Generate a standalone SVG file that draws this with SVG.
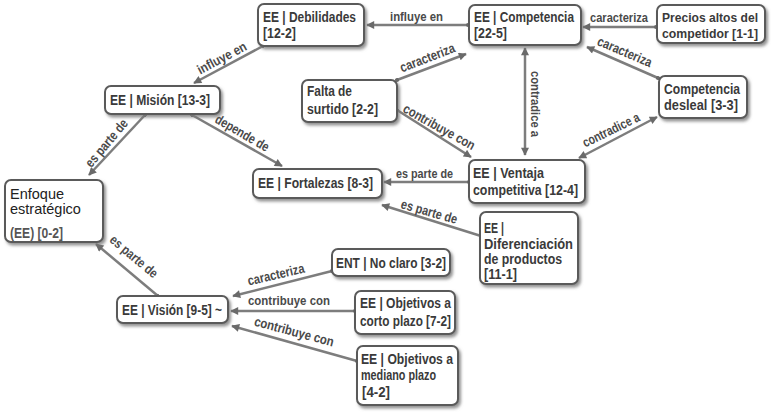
<svg xmlns="http://www.w3.org/2000/svg" width="771" height="415" viewBox="0 0 771 415">
<style>
.box{fill:#fff;stroke:#5a5a5a;stroke-width:2;filter:url(#sh)}
.t{font-family:"Liberation Sans Narrow","Liberation Sans",Arial,sans-serif;font-weight:bold;font-size:14px;fill:#3a3a3a}
.r{font-family:"Liberation Sans",Arial,sans-serif;font-size:14.5px;fill:#222}
.lb{font-family:"Liberation Sans Narrow","Liberation Sans",Arial,sans-serif;font-weight:bold;font-size:13.5px;fill:#4a4a4a}
.e{fill:none;stroke:#7d7d7d;stroke-width:2.5;marker-end:url(#ah);marker-start:url(#dot)}
.b{fill:none;stroke:#7d7d7d;stroke-width:2.5;marker-end:url(#ah);marker-start:url(#ahs)}
</style>
<defs>
<filter id="sh" x="-10%" y="-10%" width="130%" height="140%">
<feDropShadow dx="2" dy="2.5" stdDeviation="1.5" flood-color="#777" flood-opacity="0.8"/>
</filter>
<marker id="ah" viewBox="0 0 10 10" refX="9" refY="5" markerWidth="3.8" markerHeight="3.2" orient="auto" markerUnits="strokeWidth">
<path d="M0,0 L10,5 L0,10 Z" fill="#6a6a6a"/>
</marker>
<marker id="ahs" viewBox="0 0 10 10" refX="9" refY="5" markerWidth="3.8" markerHeight="3.2" orient="auto-start-reverse" markerUnits="strokeWidth">
<path d="M0,0 L10,5 L0,10 Z" fill="#6a6a6a"/>
</marker>
<marker id="dot" viewBox="0 0 10 10" refX="5" refY="5" markerWidth="1.6" markerHeight="1.6" orient="auto" markerUnits="strokeWidth">
<circle cx="5" cy="5" r="5" fill="#6a6a6a"/>
</marker>
</defs>
<rect width="771" height="415" fill="#fff"/>

<g id="connectors">
<path class="e" d="M468,25 L367,25"/>
<path class="e" d="M656,27 L583,27"/>
<path class="e" d="M658,78 L587,47"/>
<path class="e" d="M397,80 L466,54"/>
<path class="e" d="M263,46 L194,83"/>
<path class="b" d="M525,155 L525,48"/>
<path class="e" d="M397,110 L471,157"/>
<path class="b" d="M579,158 L657,117"/>
<path class="e" d="M469,182 L384,182"/>
<path class="e" d="M481,236 L382,205"/>
<path class="e" d="M192,115 L282,166"/>
<path class="e" d="M145,115 L89,175"/>
<path class="e" d="M158,296 L96,244"/>
<path class="e" d="M332,271 L233,296"/>
<path class="e" d="M355,311 L231,311"/>
<path class="e" d="M357,361 L232,326"/>
</g>

<g id="labels">
<text class="lb" x="390" y="21" textLength="53" lengthAdjust="spacingAndGlyphs">influye en</text>
<text class="lb" x="590" y="22" textLength="58" lengthAdjust="spacingAndGlyphs">caracteriza</text>
<text class="lb" transform="translate(623,56) rotate(23)" x="-29" y="0" textLength="58" lengthAdjust="spacingAndGlyphs">caracteriza</text>
<text class="lb" transform="translate(429,62) rotate(-21)" x="-29" y="0" textLength="58" lengthAdjust="spacingAndGlyphs">caracteriza</text>
<text class="lb" transform="translate(224,62) rotate(-28)" x="-27" y="0" textLength="54" lengthAdjust="spacingAndGlyphs">influye en</text>
<text class="lb" transform="translate(531,104) rotate(90)" x="-33" y="0" textLength="66" lengthAdjust="spacingAndGlyphs">contradice a</text>
<text class="lb" transform="translate(437,131) rotate(29)" x="-40" y="0" textLength="80" lengthAdjust="spacingAndGlyphs">contribuye con</text>
<text class="lb" transform="translate(613,134) rotate(-26)" x="-31" y="0" textLength="62" lengthAdjust="spacingAndGlyphs">contradice a</text>
<text class="lb" x="396" y="178" textLength="57" lengthAdjust="spacingAndGlyphs">es parte de</text>
<text class="lb" transform="translate(428,216) rotate(16)" x="-29" y="0" textLength="58" lengthAdjust="spacingAndGlyphs">es parte de</text>
<text class="lb" transform="translate(240,137) rotate(30)" x="-30" y="0" textLength="60" lengthAdjust="spacingAndGlyphs">depende de</text>
<text class="lb" transform="translate(110,146) rotate(-50)" x="-29" y="0" textLength="58" lengthAdjust="spacingAndGlyphs">es parte de</text>
<text class="lb" transform="translate(131,260) rotate(40)" x="-29" y="0" textLength="58" lengthAdjust="spacingAndGlyphs">es parte de</text>
<text class="lb" transform="translate(277,279) rotate(-13)" x="-29" y="0" textLength="58" lengthAdjust="spacingAndGlyphs">caracteriza</text>
<text class="lb" x="248" y="305" textLength="82" lengthAdjust="spacingAndGlyphs">contribuye con</text>
<text class="lb" transform="translate(293,336) rotate(15)" x="-41" y="0" textLength="82" lengthAdjust="spacingAndGlyphs">contribuye con</text>
</g>

<g id="debilidades">
<rect class="box" x="258" y="4" width="106" height="42" rx="6"/>
<text class="t" x="263" y="22" textLength="93" lengthAdjust="spacingAndGlyphs">EE | Debilidades</text>
<text class="t" x="263" y="38" textLength="33" lengthAdjust="spacingAndGlyphs">[12-2]</text>
</g>
<g id="competencia">
<rect class="box" x="469" y="5" width="112" height="40" rx="6"/>
<text class="t" x="474" y="22" textLength="100" lengthAdjust="spacingAndGlyphs">EE | Competencia</text>
<text class="t" x="474" y="38" textLength="33" lengthAdjust="spacingAndGlyphs">[22-5]</text>
</g>
<g id="precios">
<rect class="box" x="657" y="5" width="108" height="38" rx="6"/>
<text class="t" x="662" y="22" textLength="96" lengthAdjust="spacingAndGlyphs" style="font-size:12.5px">Precios altos del</text>
<text class="t" x="662" y="38" textLength="96" lengthAdjust="spacingAndGlyphs" style="font-size:12.5px">competidor [1-1]</text>
</g>
<g id="falta">
<rect class="box" x="302" y="80" width="95" height="42" rx="6"/>
<text class="t" x="307" y="96" textLength="45" lengthAdjust="spacingAndGlyphs">Falta de</text>
<text class="t" x="307" y="114" textLength="71" lengthAdjust="spacingAndGlyphs">surtido [2-2]</text>
</g>
<g id="desleal">
<rect class="box" x="659" y="76" width="88" height="42" rx="6"/>
<text class="t" x="664" y="94" textLength="76" lengthAdjust="spacingAndGlyphs">Competencia</text>
<text class="t" x="664" y="110" textLength="74" lengthAdjust="spacingAndGlyphs">desleal [3-3]</text>
</g>
<g id="mision">
<rect class="box" x="105" y="86" width="115" height="28" rx="6"/>
<text class="t" x="110" y="105" textLength="100" lengthAdjust="spacingAndGlyphs">EE | Misión [13-3]</text>
</g>
<g id="enfoque">
<rect class="box" x="5" y="180" width="98" height="62" rx="6"/>
<text class="r" x="10" y="199">Enfoque</text>
<text class="r" x="10" y="214">estratégico</text>
<text class="t" x="10" y="238" textLength="53" lengthAdjust="spacingAndGlyphs" style="fill:#555">(EE) [0-2]</text>
</g>
<g id="fortalezas">
<rect class="box" x="253" y="169" width="129" height="29" rx="6"/>
<text class="t" x="258" y="188" textLength="115" lengthAdjust="spacingAndGlyphs">EE | Fortalezas [8-3]</text>
</g>
<g id="ventaja">
<rect class="box" x="469" y="160" width="116" height="43" rx="6"/>
<text class="t" x="473" y="178" textLength="71" lengthAdjust="spacingAndGlyphs">EE | Ventaja</text>
<text class="t" x="473" y="195" textLength="105" lengthAdjust="spacingAndGlyphs">competitiva [12-4]</text>
</g>
<g id="diferenciacion">
<rect class="box" x="480" y="212" width="98" height="72" rx="6"/>
<text class="t" x="484" y="233" textLength="20" lengthAdjust="spacingAndGlyphs">EE |</text>
<text class="t" x="484" y="249" textLength="89" lengthAdjust="spacingAndGlyphs">Diferenciación</text>
<text class="t" x="484" y="264" textLength="78" lengthAdjust="spacingAndGlyphs">de productos</text>
<text class="t" x="484" y="279" textLength="33" lengthAdjust="spacingAndGlyphs">[11-1]</text>
</g>
<g id="noclaro">
<rect class="box" x="332" y="249" width="118" height="27" rx="6"/>
<text class="t" x="336" y="268" textLength="110" lengthAdjust="spacingAndGlyphs">ENT | No claro [3-2]</text>
</g>
<g id="corto">
<rect class="box" x="355" y="291" width="100" height="43" rx="6"/>
<text class="t" x="360" y="308" textLength="91" lengthAdjust="spacingAndGlyphs">EE | Objetivos a</text>
<text class="t" x="360" y="326" textLength="91" lengthAdjust="spacingAndGlyphs">corto plazo [7-2]</text>
</g>
<g id="mediano">
<rect class="box" x="357" y="346" width="101" height="59" rx="6"/>
<text class="t" x="361" y="364" textLength="92" lengthAdjust="spacingAndGlyphs">EE | Objetivos a</text>
<text class="t" x="361" y="380" textLength="75" lengthAdjust="spacingAndGlyphs">mediano plazo</text>
<text class="t" x="362" y="397" textLength="28" lengthAdjust="spacingAndGlyphs">[4-2]</text>
</g>
<g id="vision">
<rect class="box" x="117" y="296" width="111" height="27" rx="6"/>
<text class="t" x="122" y="315" textLength="100" lengthAdjust="spacingAndGlyphs">EE | Visión [9-5] ~</text>
</g>
</svg>
